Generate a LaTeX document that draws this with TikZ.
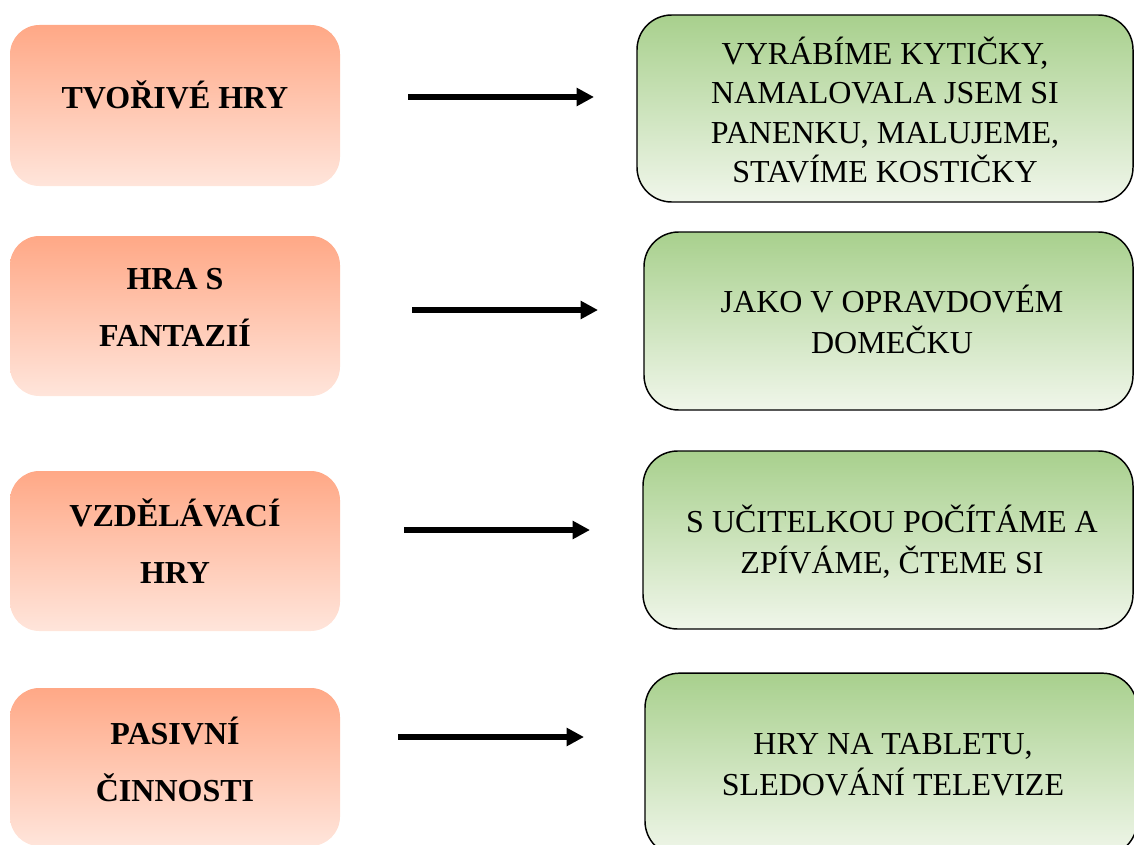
\documentclass[tikz,border=0pt]{standalone}
\usepackage{fontspec}
\setmainfont{Liberation Serif}
\usetikzlibrary{arrows.meta}

\definecolor{salmonTop}{RGB}{255,168,134}
\definecolor{salmonBot}{RGB}{255,229,219}
\definecolor{greenTop}{RGB}{168,208,141}
\definecolor{greenBot}{RGB}{240,246,234}

\begin{document}
\begin{tikzpicture}[x=0.75pt,y=-0.75pt,
  catbox/.style={rectangle,rounded corners=22pt,inner sep=0pt,
    top color=salmonTop,bottom color=salmonBot,draw=none,
    minimum width=247.5pt},
  descbox/.style={rectangle,rounded corners=26pt,inner sep=0pt,
    top color=greenTop,bottom color=greenBot,draw=black,line width=1.1pt},
  cattext/.style={align=center,inner sep=0pt,
    font=\fontsize{24}{42.75}\selectfont\bfseries},
  desctext/.style={align=center,inner sep=0pt,
    font=\fontsize{24}{30.75}\selectfont},
  link/.style={line width=4.5pt,-{Triangle[length=13pt,width=13pt]}}
]
\useasboundingbox (0,0) rectangle (1134,845);
\clip (0,0) rectangle (1134,845);

% left column: activity categories
\node[catbox,minimum height=120.75pt] (L1) at (175,105.5) {};
\node[catbox,minimum height=120pt] (L2) at (175,316) {};
\node[catbox,minimum height=120pt] (L3) at (175,551) {};
\node[catbox,minimum height=118.5pt] (L4) at (175,767) {};

\node[cattext] (L1t) at (175,95) {TVOŘIVÉ HRY};
\node[cattext] (L2t) at (175,307.5) {HRA S\\FANTAZIÍ};
\node[cattext] (L3t) at (175,541) {VZDĚLÁVACÍ\\HRY};
\node[cattext] (L4t) at (175,759) {PASIVNÍ\\ČINNOSTI};

% right column: examples
\node[descbox,minimum width=372pt,minimum height=140.25pt] (R1) at (885,108.5) {};
\node[descbox,minimum width=366.75pt,minimum height=133.5pt] (R2) at (888.5,321) {};
\node[descbox,minimum width=367.5pt,minimum height=133.5pt] (R3) at (888,540) {};
\node[descbox,minimum width=369pt,minimum height=137pt] (R4) at (891,764.5) {};

\node[desctext,font=\fontsize{24}{29.6}\selectfont] (R1t) at (885,110) {VYRÁBÍME KYTIČKY,\\NAMALOVALA JSEM SI\\PANENKU, MALUJEME,\\STAVÍME KOSTIČKY};
\node[desctext] (R2t) at (892,319.5) {JAKO V OPRAVDOVÉM\\DOMEČKU};
\node[desctext] (R3t) at (892,542) {S UČITELKOU POČÍTÁME A\\ZPÍVÁME, ČTEME SI};
\node[desctext] (R4t) at (893,765) {HRY NA TABLETU,\\SLEDOVÁNÍ TELEVIZE};

% arrows between the columns
\coordinate (a1s) at (408,97);  \coordinate (a1e) at (594,97);
\coordinate (a2s) at (412,310); \coordinate (a2e) at (598,310);
\coordinate (a3s) at (404,530); \coordinate (a3e) at (590,530);
\coordinate (a4s) at (398,737); \coordinate (a4e) at (584,737);
\draw[link] (a1s) -- (a1e);
\draw[link] (a2s) -- (a2e);
\draw[link] (a3s) -- (a3e);
\draw[link] (a4s) -- (a4e);
\end{tikzpicture}
\end{document}
